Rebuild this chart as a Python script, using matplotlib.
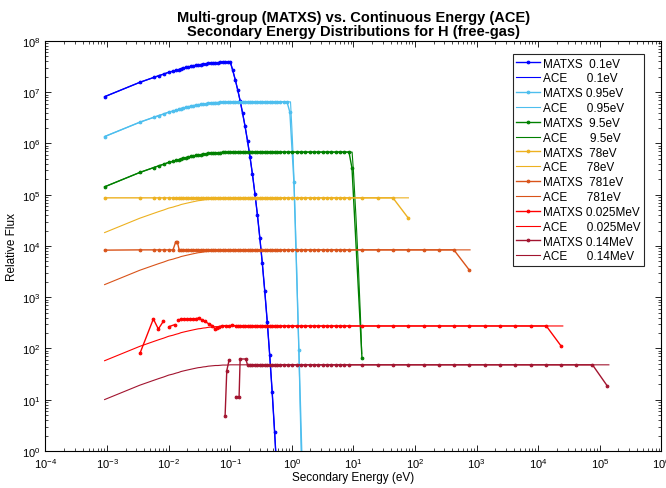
import numpy as np
import matplotlib
matplotlib.use("Agg")
import matplotlib.pyplot as plt
from matplotlib.ticker import LogLocator, NullFormatter

plt.rcParams['font.family'] = ['Liberation Sans', 'DejaVu Sans']
plt.rcParams['mathtext.fontset'] = 'custom'
plt.rcParams['mathtext.rm'] = 'Liberation Sans'
plt.rcParams['mathtext.it'] = 'Liberation Sans:italic'
plt.rcParams['mathtext.bf'] = 'Liberation Sans:bold'

# multigroup point energies, log10(eV)
grid_log = [-3.04, -2.47, -2.24, -2.16, -2.08, -2.00, -1.93,
            -1.88, -1.84, -1.80, -1.76, -1.72, -1.68, -1.64, -1.60, -1.56,
            -1.52, -1.48, -1.44, -1.40, -1.36, -1.32, -1.28, -1.24, -1.20,
            -1.16, -1.12, -1.08, -1.04, -1.00,
            -0.96, -0.92, -0.88, -0.84, -0.80, -0.76, -0.72, -0.68, -0.64,
            -0.60, -0.56, -0.52, -0.48, -0.44, -0.40, -0.36, -0.32, -0.28,
            -0.24, -0.20,
            -0.13, -0.06, 0.01, 0.08, 0.15, 0.22, 0.29, 0.36, 0.43, 0.50,
            0.57, 0.64, 0.71, 0.78, 0.85, 0.927,
            1.14, 1.39, 1.64, 1.89, 2.14, 2.39, 2.63, 2.88, 3.13, 3.38,
            3.63, 3.88, 4.13, 4.37, 4.62, 4.88, 5.12]

# fraction of the plateau on the rising low-energy side (first grid points)
rise = [0.21, 0.40, 0.50, 0.54, 0.58, 0.63, 0.66, 0.69, 0.71, 0.74,
        0.76, 0.78, 0.80, 0.82, 0.84, 0.86, 0.88, 0.89, 0.91, 0.92,
        0.94, 0.95, 0.96, 0.97, 0.97, 0.98, 0.99, 0.99, 0.99, 1.00]

incident = ['0.1eV', '0.95eV', '9.5eV', '78eV', '781eV', '0.025MeV', '0.14MeV']
e_in = [0.1, 0.95, 9.5, 78, 781, 2.5e4, 1.4e5]
plateau = [3.9e7, 6.5e6, 6.8e5, 8.7e4, 8.4e3, 275, 48]
colors = ['#0000ff', '#4dbeee', '#008000', '#edb120', '#d95319', '#ff0000', '#a2142f']

matxs_labels = ['MATXS  0.1eV', 'MATXS 0.95eV', 'MATXS  9.5eV', 'MATXS  78eV',
                'MATXS  781eV', 'MATXS 0.025MeV', 'MATXS 0.14MeV']
ace_labels = ['ACE      0.1eV', 'ACE      0.95eV', 'ACE       9.5eV', 'ACE      78eV',
              'ACE      781eV', 'ACE      0.025MeV', 'ACE      0.14MeV']

# last plateau point of each MATXS curve, log10(eV)
matxs_cut = [-1.00, -0.10, 0.93, 1.64, 2.63, 4.13, 4.88]

blue_tail_log = [-0.96, -0.92, -0.88, -0.84, -0.80, -0.76, -0.72, -0.68, -0.64, -0.60,
                 -0.56, -0.52, -0.48, -0.44, -0.40, -0.36, -0.32, -0.28, -0.24]
blue_tail_y = [2.67e7, 1.77e7, 1.12e7, 6.8e6, 3.9e6, 2.16e6, 1.12e6, 5.5e5, 2.5e5, 1.05e5,
               4.1e4, 1.43e4, 4.6e3, 1.31e3, 333, 74, 14.3, 2.3, 0.32]

matxs_tail_log = [blue_tail_log, [-0.08, -0.033, 0.033, 0.114, 0.19], [0.976, 1.138],
                  [1.89], [2.88], [4.37], [5.12]]
matxs_tail_y = [blue_tail_y, [6.5e6, 4.1e6, 1.8e5, 93, 0.05], [3.3e5, 65],
                [3.5e4], [3.4e3], [112], [18.6]]

# irregular low-energy MATXS points
orange_head_log = [-3.04, -2.47, -2.24, -2.16, -2.08, -2.00, -1.93, -1.886, -1.859, -1.83]
orange_head_y = [8.3e3, 8.4e3, 8.4e3, 8.4e3, 8.4e3, 8.4e3, 8.4e3, 1.2e4, 1.2e4, 8.4e3]
red_head_log = [-2.467, -2.249, -2.168, -2.087, -2.04, -1.995, -1.902, -1.87, -1.842,
                -1.80, -1.751, -1.70, -1.653, -1.60, -1.561, -1.507, -1.463, -1.415,
                -1.345, -1.290, -1.252, -1.220, -1.182, -1.127, -1.073, -1.019, -0.965,
                -0.911]
red_head_y = [80, 377, 240, 339, np.nan, 267, 292, np.nan, 360,
              375, 382, 372, 382, 378, 382, 394, 360, 339,
              301, 279, 244, 251, 267, 279, 279, 275, 288,
              275]
maroon_head_log = [-1.084, -1.057, -1.019, -0.96, -0.911, -0.857, -0.840, -0.748, -0.72]
maroon_head_y = [4.9, 36.9, 59.6, np.nan, 11.5, 11.5, 62.4, 62.4, 47.7]
matxs_head = {4: (orange_head_log, orange_head_y),
              5: (red_head_log, red_head_y),
              6: (maroon_head_log, maroon_head_y)}

# ACE upscatter tails (eV) for the three thermal cases
ace_tail_e = [[10 ** v for v in blue_tail_log],
              [0.95, 1.0, 1.05, 1.1, 1.15, 1.2, 1.25, 1.3, 1.35, 1.4, 1.45],
              [9.5, 10, 11, 12, 13, 13.6]]
ace_tail_y = [blue_tail_y,
              [6.5e6, 2.0e6, 5.6e5, 1.1e5, 2.0e4, 3.2e3, 500, 79, 11, 1.6, 0.25],
              [6.8e5, 2.8e5, 3.5e4, 4.0e3, 400, 80]]


glog = np.array(grid_log)
gfrac = np.ones(len(glog))
gfrac[:len(rise)] = rise

fig = plt.figure(figsize=(6.66, 4.89), dpi=100)
ax = fig.add_axes([0.0683, 0.0757, 0.9249, 0.8384])

for i in range(7):
    # MATXS
    m = glog <= matxs_cut[i] + 1e-9
    xl = glog[m]
    yv = plateau[i] * (gfrac[m] if i < 3 else np.ones(m.sum()))
    if i in matxs_head:
        hl, hy = matxs_head[i]
        keep = xl > hl[-1] + 1e-9
        xl = np.concatenate([hl, xl[keep]])
        yv = np.concatenate([hy, yv[keep]])
    xl = np.concatenate([xl, matxs_tail_log[i]])
    yv = np.concatenate([yv, matxs_tail_y[i]])
    ax.plot(10 ** xl, yv, '.-', color=colors[i], lw=1.0, ms=4, mew=0.7,
            label=matxs_labels[i])

    # ACE
    if i == 0:
        m = glog <= -1.0 + 1e-9
    else:
        m = glog < np.log10(e_in[i]) - 1e-9
    xe = 10 ** glog[m]
    ye = plateau[i] * gfrac[m]
    if i < 3:
        xe = np.concatenate([xe, ace_tail_e[i]])
        ye = np.concatenate([ye, ace_tail_y[i]])
    else:
        xe = np.append(xe, e_in[i])
        ye = np.append(ye, plateau[i])
    ax.plot(xe, ye, '-', color=colors[i], lw=0.8, label=ace_labels[i])

ax.set_xscale('log')
ax.set_yscale('log')
ax.set_xlim(1e-4, 1e6)
ax.set_ylim(1, 1e8)
ax.xaxis.set_major_locator(LogLocator(base=10, numticks=20))
ax.yaxis.set_major_locator(LogLocator(base=10, numticks=20))
ax.xaxis.set_minor_locator(LogLocator(base=10, subs=np.arange(2, 10), numticks=200))
ax.yaxis.set_minor_locator(LogLocator(base=10, subs=np.arange(2, 10), numticks=200))
ax.xaxis.set_minor_formatter(NullFormatter())
ax.yaxis.set_minor_formatter(NullFormatter())
ax.tick_params(which='both', direction='in', top=True, right=True, labelsize=8)
ax.tick_params(which='major', length=4, width=0.6)
ax.tick_params(which='minor', length=2, width=0.5)
for s in ax.spines.values():
    s.set_linewidth(0.8)

ax.set_xlabel('Secondary Energy (eV)', fontsize=8.5, labelpad=1)
ax.set_ylabel('Relative Flux', fontsize=8.5, labelpad=3)
ax.set_title('Multi-group (MATXS) vs. Continuous Energy (ACE)\n'
             'Secondary Energy Distributions for H (free-gas)',
             fontsize=10.5, fontweight='bold', pad=4.5, linespacing=0.95)

leg = ax.legend(loc='upper right', bbox_to_anchor=(0.9716, 0.9683), borderaxespad=0,
                fontsize=8.5, numpoints=1, handlelength=2.05, handletextpad=0.2,
                labelspacing=0.24, borderpad=0.3, fancybox=False, framealpha=1)
leg.get_frame().set_edgecolor('#262626')
leg.get_frame().set_linewidth(0.8)

fig.savefig('out.png', dpi=100)
